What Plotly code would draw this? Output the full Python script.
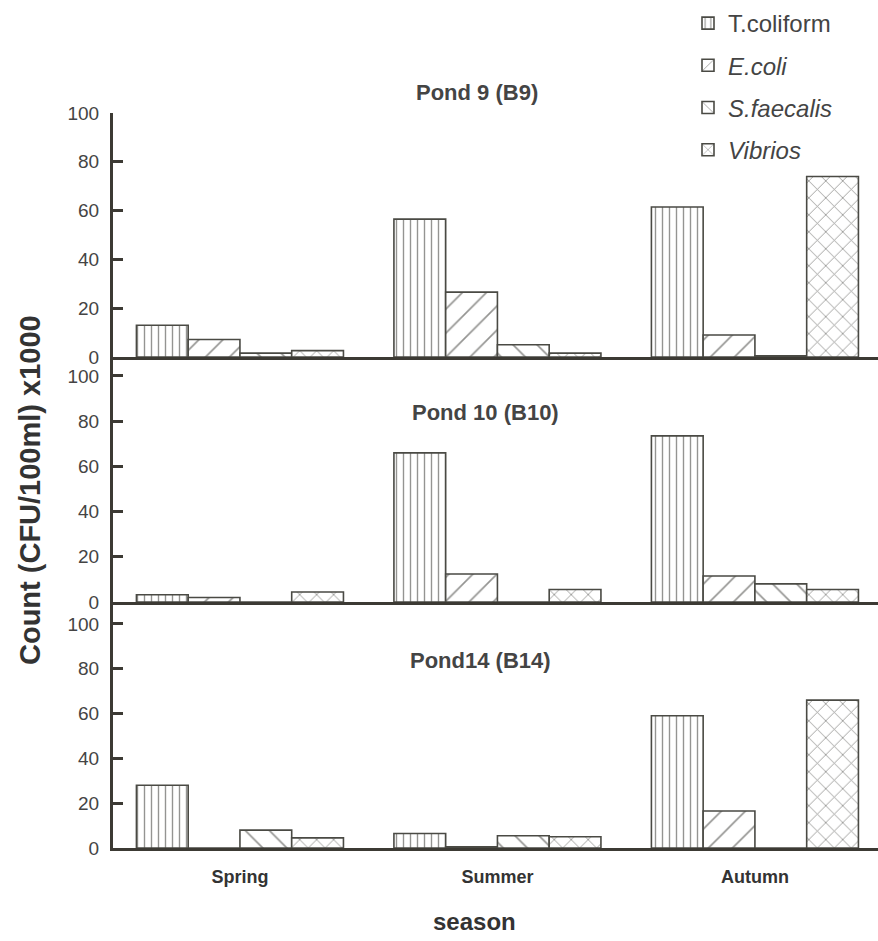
import plotly.graph_objects as go

seasons = ["Spring", "Summer", "Autumn"]
series = ["T.coliform", "<i>E.coli</i>", "<i>S.faecalis</i>", "<i>Vibrios</i>"]
patterns = ["|", "/", "\\", "x"]
pattern_sizes = [7, 17, 17, 12]
pattern_solidity = [0.2, 0.1, 0.1, 0.14]

pond9 = {
    "T.coliform": [13, 56.5, 61.5],
    "E.coli": [7.2, 26.6, 9],
    "S.faecalis": [1.6, 5, 0.5],
    "Vibrios": [2.6, 1.6, 74],
}
pond10 = {
    "T.coliform": [3.2, 66, 73.5],
    "E.coli": [2, 12.4, 11.5],
    "S.faecalis": [0, 0, 8],
    "Vibrios": [4.4, 5.5, 5.5],
}
pond14 = {
    "T.coliform": [28, 6.5, 59],
    "E.coli": [0, 0.5, 16.5],
    "S.faecalis": [8, 5.5, 0],
    "Vibrios": [4.5, 5, 66],
}
panels = [("Pond 9 (B9)", pond9), ("Pond 10 (B10)", pond10), ("Pond14 (B14)", pond14)]
keys = ["T.coliform", "E.coli", "S.faecalis", "Vibrios"]

ink = "#3c3a34"
fig = go.Figure()
axnames = ["y", "y2", "y3"]
xnames = ["x", "x2", "x3"]
for pi, (title, data) in enumerate(panels):
    for si, k in enumerate(keys):
        fig.add_trace(go.Bar(
            x=seasons, y=data[k], name=series[si],
            xaxis=xnames[pi], yaxis=axnames[pi],
            showlegend=(pi == 0), legendgroup=k,
            marker=dict(color="white", line=dict(color="#4a4a44", width=1.6),
                        pattern=dict(shape=patterns[si], fgcolor="#2a2a26",
                                     bgcolor="white", size=pattern_sizes[si],
                                     solidity=pattern_solidity[si])),
        ))

W, H = 878, 941
L, R, T, B = 113, 0, 113, 93
ph = H - T - B
def py(p):
    return (H - B - p) / ph

d1 = [py(357), 1.0]
d2 = [py(602), py(357)]
d3 = [0, py(602)]

tickfont = dict(family="Liberation Sans Narrow, Arial Narrow, Liberation Sans, Arial", size=19, color="#444")
yax = dict(showline=True, linecolor=ink, linewidth=3, ticks="inside", ticklen=10, tickwidth=2.5,
           tickcolor=ink, tickvals=[0, 20, 40, 60, 80, 100], showgrid=False, zeroline=False,
           tickfont=tickfont, ticklabelstandoff=7)
xax = dict(showline=True, linecolor=ink, linewidth=3, ticks="", showgrid=False, zeroline=False,
           range=[-0.493, 2.478], type="category")

fig.update_layout(
    width=W, height=H, margin=dict(l=L, r=R, t=T, b=B),
    paper_bgcolor="white", plot_bgcolor="white",
    barmode="group", bargap=0.196, bargroupgap=0,
    xaxis=dict(xax, anchor="y", showticklabels=False),
    xaxis2=dict(xax, anchor="y2", showticklabels=False),
    xaxis3=dict(xax, anchor="y3", showticklabels=True, ticklabelstandoff=10,
                tickfont=dict(family="Liberation Sans, Arial", size=18, color="#333", weight="bold")),
    yaxis=dict(yax, domain=d1, range=[0, 100], anchor="x"),
    yaxis2=dict(yax, domain=d2, range=[0, 108.4], anchor="x2"),
    yaxis3=dict(yax, domain=d3, range=[0, 109.8], anchor="x3"),
    legend=dict(x=(688 - L) / 765, y=py(1), xanchor="left", yanchor="top",
                font=dict(family="Liberation Sans Narrow, Arial Narrow, Liberation Sans, Arial", size=24, color="#444"),
                tracegroupgap=8, bgcolor="rgba(0,0,0,0)"),
    font=dict(family="Liberation Sans, Arial"),
)

tfont = dict(family="Liberation Sans Narrow, Arial Narrow, Liberation Sans, Arial", size=22, color="#444", weight="bold")
for (title, _), xp, yp in zip(panels, [477, 485, 480], [92, 412, 660]):
    fig.add_annotation(text=title, xref="paper", yref="paper", x=(xp - L) / 765, y=py(yp),
                       showarrow=False, font=tfont, xanchor="center", yanchor="middle")

fig.add_annotation(text="Count (CFU/100ml) x1000", xref="paper", yref="paper",
                   x=(30 - L) / 765, y=py(490), textangle=-90, showarrow=False,
                   font=dict(family="Liberation Sans, Arial", size=29, color="#333", weight="bold"),
                   xanchor="center", yanchor="middle")
fig.add_annotation(text="season", xref="paper", yref="paper",
                   x=(474 - L) / 765, y=py(921), showarrow=False,
                   font=dict(family="Liberation Sans, Arial", size=24, color="#333", weight="bold"),
                   xanchor="center", yanchor="middle")

fig.write_html("out.html")
